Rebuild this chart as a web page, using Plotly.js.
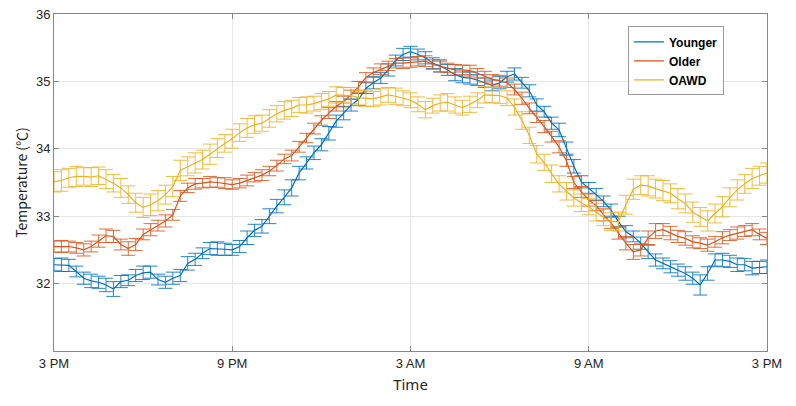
<!DOCTYPE html>
<html>
<head>
<meta charset="utf-8">
<script src="https://cdn.plot.ly/plotly-3.0.1.min.js"></script>
<style>html,body{margin:0;padding:0;background:#fff;}#chart{width:796px;height:406px;}</style>
</head>
<body>
<div id="chart"></div>
<script>
// Time in hours after 3 PM
var hours = [0,0.25,0.5,0.75,1,1.25,1.5,1.75,2,2.25,2.5,2.75,3,3.25,3.5,3.75,4,
4.25,4.5,4.75,5,5.25,5.5,5.75,6,6.25,6.5,6.75,7,7.25,7.5,7.75,8,
8.25,8.5,8.75,9,9.25,9.5,9.75,10,10.25,10.5,10.75,11,11.25,11.5,11.75,12,
12.25,12.5,12.75,13,13.25,13.5,13.75,14,14.25,14.5,14.75,15,15.25,15.5,15.75,16,
16.25,16.5,16.75,17,17.25,17.5,17.75,18,18.25,18.5,18.75,19,19.25,19.5,19.75,20,
20.25,20.5,20.75,21,21.25,21.5,21.75,22,22.25,22.5,22.75,23,23.25,23.5,23.75,24];

var tickHours = [0,6,12,18,24];
var tickLabels = ['3 PM','9 PM','3 AM','9 AM','3 PM'];
var yTicks = [32,33,34,35,36];
var seriesNames = ['Younger','Older','OAWD'];

var younger = [32.28,32.28,32.27,32.18,32.08,32.04,32.02,31.98,31.92,32.03,32.05,32.12,32.16,32.17,32.06,32.02,32.08,
32.12,32.30,32.36,32.45,32.52,32.52,32.51,32.50,32.55,32.68,32.79,32.85,33.00,33.15,33.28,33.42,
33.64,33.79,33.94,34.06,34.23,34.41,34.53,34.65,34.73,34.90,34.98,35.05,35.17,35.31,35.40,35.44,
35.40,35.35,35.27,35.23,35.17,35.10,35.06,35.05,35.02,34.98,34.94,34.98,35.07,35.11,34.98,34.86,
34.65,34.55,34.38,34.28,34.01,33.74,33.51,33.42,33.32,33.22,33.09,32.92,32.77,32.70,32.60,32.47,
32.35,32.30,32.25,32.20,32.15,32.08,31.98,32.15,32.35,32.35,32.33,32.28,32.28,32.23,32.24,32.25];

var older = [32.55,32.55,32.55,32.53,32.50,32.55,32.63,32.71,32.70,32.58,32.52,32.58,32.73,32.80,32.86,32.93,33.02,
33.30,33.42,33.48,33.49,33.51,33.50,33.49,33.47,33.49,33.53,33.58,33.61,33.67,33.75,33.85,33.90,
34.03,34.16,34.30,34.42,34.53,34.63,34.70,34.80,34.92,35.06,35.13,35.18,35.23,35.27,35.27,35.28,
35.30,35.30,35.25,35.22,35.20,35.17,35.17,35.16,35.12,35.07,35.03,35.01,34.98,34.88,34.75,34.60,
34.47,34.33,34.18,34.03,33.82,33.50,33.36,33.24,33.16,33.02,32.90,32.75,32.60,32.47,32.50,32.68,
32.78,32.80,32.75,32.70,32.67,32.62,32.60,32.57,32.62,32.68,32.72,32.75,32.78,32.80,32.73,32.67];

var oawd = [33.51,33.53,33.57,33.59,33.59,33.58,33.60,33.55,33.49,33.42,33.32,33.20,33.13,33.17,33.23,33.32,33.44,
33.68,33.74,33.79,33.84,33.92,34.01,34.08,34.15,34.24,34.31,34.36,34.38,34.45,34.52,34.57,34.60,
34.65,34.65,34.67,34.70,34.74,34.80,34.80,34.79,34.76,34.75,34.74,34.77,34.80,34.78,34.75,34.72,
34.66,34.58,34.64,34.68,34.69,34.65,34.61,34.66,34.72,34.80,34.80,34.79,34.75,34.62,34.42,34.20,
33.92,33.80,33.63,33.48,33.37,33.27,33.20,33.14,33.06,32.98,32.92,32.92,33.17,33.40,33.46,33.45,
33.41,33.38,33.34,33.26,33.19,33.06,32.99,32.93,33.04,33.14,33.28,33.39,33.48,33.56,33.60,33.64];

var youngerErr = [0.09,0.10,0.09,0.08,0.09,0.10,0.09,0.10,0.11,0.09,0.08,0.09,0.10,0.09,0.08,0.09,0.09,
0.09,0.10,0.09,0.08,0.09,0.10,0.09,0.08,0.09,0.10,0.09,0.10,0.11,0.10,0.11,0.12,
0.10,0.09,0.10,0.09,0.10,0.09,0.10,0.09,0.09,0.08,0.09,0.08,0.09,0.08,0.09,0.08,
0.08,0.09,0.08,0.09,0.08,0.09,0.08,0.09,0.08,0.07,0.08,0.09,0.08,0.09,0.08,0.09,
0.09,0.08,0.09,0.10,0.09,0.10,0.09,0.08,0.09,0.08,0.09,0.08,0.09,0.08,0.09,0.10,
0.09,0.08,0.09,0.09,0.10,0.09,0.15,0.10,0.09,0.10,0.09,0.10,0.09,0.10,0.09,0.10];

var olderErr = [0.08,0.09,0.08,0.08,0.09,0.08,0.09,0.10,0.09,0.08,0.10,0.09,0.08,0.09,0.08,0.09,0.08,
0.08,0.07,0.08,0.07,0.08,0.07,0.08,0.07,0.07,0.08,0.07,0.08,0.07,0.08,0.07,0.08,
0.08,0.07,0.08,0.07,0.08,0.07,0.08,0.07,0.08,0.07,0.07,0.08,0.07,0.07,0.08,0.07,
0.07,0.08,0.07,0.08,0.07,0.08,0.07,0.08,0.07,0.08,0.07,0.08,0.07,0.08,0.09,0.08,
0.08,0.09,0.08,0.09,0.08,0.09,0.08,0.09,0.08,0.09,0.08,0.09,0.10,0.11,0.09,0.10,
0.11,0.09,0.10,0.09,0.10,0.09,0.08,0.09,0.08,0.09,0.08,0.09,0.08,0.09,0.08,0.09];

var oawdErr = [0.15,0.16,0.14,0.15,0.13,0.14,0.13,0.14,0.13,0.14,0.13,0.14,0.15,0.16,0.15,0.14,0.15,
0.15,0.14,0.15,0.14,0.15,0.14,0.13,0.14,0.13,0.14,0.13,0.12,0.13,0.12,0.13,0.12,
0.11,0.12,0.11,0.12,0.11,0.12,0.11,0.12,0.11,0.12,0.11,0.12,0.11,0.12,0.11,0.11,
0.11,0.12,0.11,0.12,0.13,0.12,0.11,0.12,0.11,0.12,0.11,0.12,0.11,0.12,0.13,0.12,
0.13,0.12,0.13,0.12,0.13,0.12,0.13,0.12,0.13,0.12,0.13,0.14,0.14,0.15,0.14,0.15,
0.14,0.15,0.14,0.15,0.14,0.15,0.14,0.15,0.14,0.15,0.14,0.15,0.14,0.15,0.14,0.15];

var colors = ['#0072BD','#D95319','#EDB120'];
var barColors = ['rgba(0,114,189,0.85)','rgba(217,83,25,0.85)','rgba(237,177,32,0.85)'];
var ys = [younger, older, oawd];
var errs = [youngerErr, olderErr, oawdErr];

var traces = ys.map(function(y, i){
  return {
    type: 'scatter', mode: 'lines', name: seriesNames[i],
    x: hours, y: y,
    line: {color: colors[i], width: 1.2},
    error_y: {type: 'data', array: errs[i], visible: true, color: barColors[i], thickness: 1, width: 7}
  };
});

var axisFont = {family: 'Liberation Sans, Arial, sans-serif', size: 13, color: '#262626'};
var layout = {
  width: 796, height: 406,
  margin: {l: 54, r: 29, t: 14, b: 55},
  paper_bgcolor: '#fff', plot_bgcolor: '#fff',
  showlegend: true,
  xaxis: {
    range: [0, 24], tickvals: tickHours, ticktext: tickLabels,
    ticks: 'inside', ticklen: 5, tickcolor: '#888', tickfont: axisFont,
    showgrid: true, gridcolor: '#e6e6e6', zeroline: false,
    showline: true, linecolor: '#888', linewidth: 1, mirror: 'ticks',
    title: {text: 'Time', font: {family: 'Noto Sans, sans-serif', size: 15, color: '#262626'}, standoff: 9}
  },
  yaxis: {
    range: [31, 36], tickvals: yTicks,
    ticks: 'inside', ticklen: 5, tickcolor: '#888', tickfont: axisFont,
    showgrid: true, gridcolor: '#e6e6e6', zeroline: false,
    showline: true, linecolor: '#888', linewidth: 1, mirror: 'ticks',
    title: {text: 'Temperature (℃)', font: {family: 'Noto Sans CJK SC, Noto Sans, sans-serif', size: 14, color: '#262626'}, standoff: 5}
  },
  legend: {
    x: 0.805, y: 0.963, xanchor: 'left', yanchor: 'top',
    bgcolor: '#fff', bordercolor: '#999', borderwidth: 1,
    font: {family: 'Liberation Sans, Arial, sans-serif', size: 12, color: '#000', weight: 'bold'},
    itemwidth: 30, tracegroupgap: 0
  }
};

Plotly.newPlot('chart', traces, layout, {displayModeBar: false, staticPlot: true});
</script>
</body>
</html>
